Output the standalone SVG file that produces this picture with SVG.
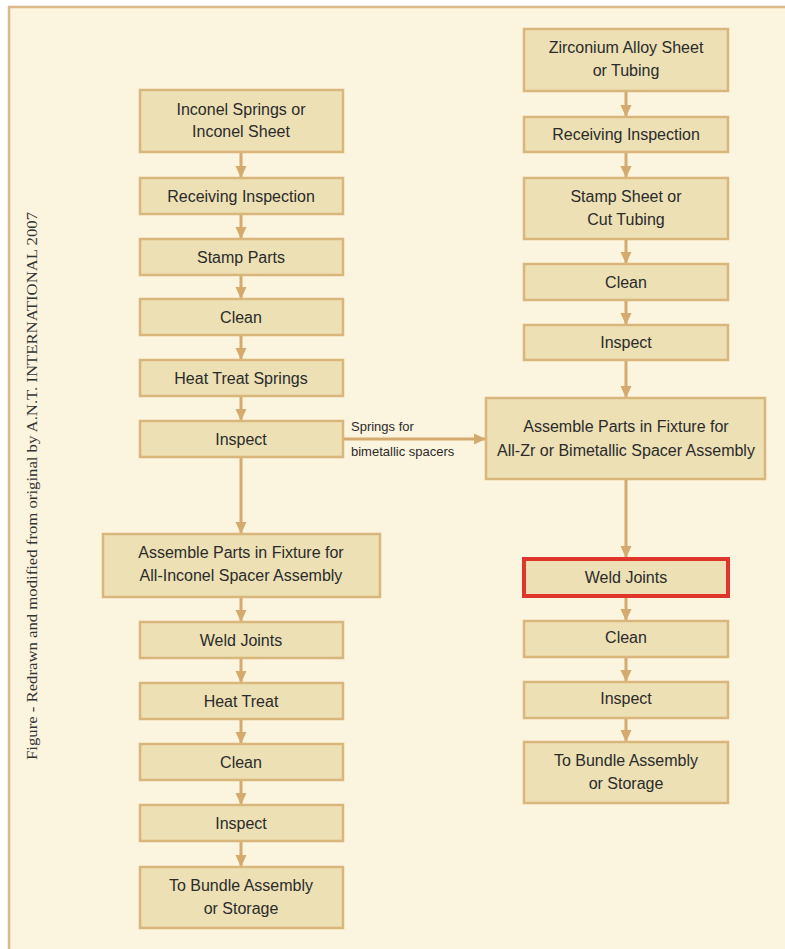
<svg xmlns="http://www.w3.org/2000/svg" width="785" height="949" viewBox="0 0 785 949">
<defs>
<style>
.bx rect{fill:#ece0b4;stroke:#d9b67c;stroke-width:2.5}
.bx text{font-family:"Liberation Sans",Arial,sans-serif;font-size:16px;fill:#2b2b2b;text-anchor:middle}
.hl rect{stroke:#e0352b;stroke-width:4}
.cn line{stroke:#d4aa6e;stroke-width:3}
.lbl{font-family:"Liberation Sans",Arial,sans-serif;font-size:13px;fill:#2b2b2b}
</style>
<marker id="ah" markerUnits="userSpaceOnUse" markerWidth="12" markerHeight="12" viewBox="0 0 12 12" refX="12" refY="6" orient="auto">
<path d="M0,0.5 L12,6 L0,11.5 Z" fill="#d4aa6e"/>
</marker>
</defs>
<rect x="0" y="0" width="785" height="949" fill="#ffffff"/>
<rect x="8" y="6" width="777" height="943" fill="#fbf4de"/>
<line x1="9" y1="6" x2="9" y2="949" stroke="#dcb98a" stroke-width="2.5"/>
<line x1="8" y1="7" x2="785" y2="7" stroke="#dcb98a" stroke-width="2.5"/>
<text transform="translate(37,486) rotate(-90)" text-anchor="middle" font-family="Liberation Serif,'Times New Roman',serif" font-size="14" fill="#333" textLength="548" lengthAdjust="spacingAndGlyphs">Figure - Redrawn and modified from original by A.N.T. INTERNATIONAL 2007</text>

<g class="cn">
<line x1="241" y1="153" x2="241" y2="178" marker-end="url(#ah)"/>
<line x1="241" y1="215" x2="241" y2="239" marker-end="url(#ah)"/>
<line x1="241" y1="276" x2="241" y2="299" marker-end="url(#ah)"/>
<line x1="241" y1="336" x2="241" y2="360" marker-end="url(#ah)"/>
<line x1="241" y1="397" x2="241" y2="421" marker-end="url(#ah)"/>
<line x1="241" y1="458" x2="241" y2="534" marker-end="url(#ah)"/>
<line x1="241" y1="597" x2="241" y2="622" marker-end="url(#ah)"/>
<line x1="241" y1="658" x2="241" y2="683" marker-end="url(#ah)"/>
<line x1="241" y1="720" x2="241" y2="744" marker-end="url(#ah)"/>
<line x1="241" y1="780" x2="241" y2="805" marker-end="url(#ah)"/>
<line x1="241" y1="842" x2="241" y2="867" marker-end="url(#ah)"/>
<line x1="343" y1="439" x2="486" y2="439" marker-end="url(#ah)"/>
<line x1="626" y1="92" x2="626" y2="117" marker-end="url(#ah)"/>
<line x1="626" y1="153" x2="626" y2="178" marker-end="url(#ah)"/>
<line x1="626" y1="240" x2="626" y2="264" marker-end="url(#ah)"/>
<line x1="626" y1="301" x2="626" y2="325" marker-end="url(#ah)"/>
<line x1="626" y1="361" x2="626" y2="398" marker-end="url(#ah)"/>
<line x1="626" y1="480" x2="626" y2="558" marker-end="url(#ah)"/>
<line x1="626" y1="598" x2="626" y2="621" marker-end="url(#ah)"/>
<line x1="626" y1="657" x2="626" y2="682" marker-end="url(#ah)"/>
<line x1="626" y1="718" x2="626" y2="742" marker-end="url(#ah)"/>
</g>
<text class="lbl" x="351" y="431">Springs for</text>
<text class="lbl" x="351" y="456">bimetallic spacers</text>

<g id="l1" class="bx"><rect x="140" y="90" width="203" height="62"/><text x="241" y="115">Inconel Springs or</text><text x="241" y="137">Inconel Sheet</text></g>
<g id="l2" class="bx"><rect x="140" y="178" width="203" height="36"/><text x="241" y="202">Receiving Inspection</text></g>
<g id="l3" class="bx"><rect x="140" y="239" width="203" height="36"/><text x="241" y="263">Stamp Parts</text></g>
<g id="l4" class="bx"><rect x="140" y="299" width="203" height="36"/><text x="241" y="323">Clean</text></g>
<g id="l5" class="bx"><rect x="140" y="360" width="203" height="36"/><text x="241" y="384">Heat Treat Springs</text></g>
<g id="l6" class="bx"><rect x="140" y="421" width="203" height="36"/><text x="241" y="445">Inspect</text></g>
<g id="l7" class="bx"><rect x="103" y="534" width="277" height="63"/><text x="241" y="558">Assemble Parts in Fixture for</text><text x="241" y="581">All-Inconel Spacer Assembly</text></g>
<g id="l8" class="bx"><rect x="140" y="622" width="203" height="36"/><text x="241" y="646">Weld Joints</text></g>
<g id="l9" class="bx"><rect x="140" y="683" width="203" height="36"/><text x="241" y="707">Heat Treat</text></g>
<g id="l10" class="bx"><rect x="140" y="744" width="203" height="36"/><text x="241" y="768">Clean</text></g>
<g id="l11" class="bx"><rect x="140" y="805" width="203" height="36"/><text x="241" y="829">Inspect</text></g>
<g id="l12" class="bx"><rect x="140" y="867" width="203" height="61"/><text x="241" y="891">To Bundle Assembly</text><text x="241" y="914">or Storage</text></g>

<g id="r1" class="bx"><rect x="524" y="29" width="204" height="62"/><text x="626" y="53">Zirconium Alloy Sheet</text><text x="626" y="76">or Tubing</text></g>
<g id="r2" class="bx"><rect x="524" y="117" width="204" height="35"/><text x="626" y="140">Receiving Inspection</text></g>
<g id="r3" class="bx"><rect x="524" y="178" width="204" height="61"/><text x="626" y="202">Stamp Sheet or</text><text x="626" y="225">Cut Tubing</text></g>
<g id="r4" class="bx"><rect x="524" y="264" width="204" height="36"/><text x="626" y="288">Clean</text></g>
<g id="r5" class="bx"><rect x="524" y="325" width="204" height="35"/><text x="626" y="348">Inspect</text></g>
<g id="r6" class="bx"><rect x="486" y="398" width="279" height="81"/><text x="626" y="432">Assemble Parts in Fixture for</text><text x="626" y="456">All-Zr or Bimetallic Spacer Assembly</text></g>
<g id="r7" class="bx hl"><rect x="524" y="559" width="204" height="37"/><text x="626" y="583">Weld Joints</text></g>
<g id="r8" class="bx"><rect x="524" y="621" width="204" height="36"/><text x="626" y="643">Clean</text></g>
<g id="r9" class="bx"><rect x="524" y="682" width="204" height="36"/><text x="626" y="704">Inspect</text></g>
<g id="r10" class="bx"><rect x="524" y="742" width="204" height="61"/><text x="626" y="766">To Bundle Assembly</text><text x="626" y="789">or Storage</text></g>
</svg>
